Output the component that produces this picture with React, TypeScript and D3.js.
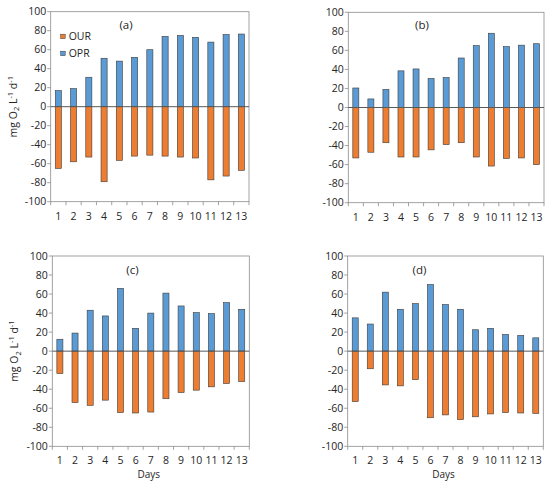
import React from "react";
import * as d3 from "d3";

// Days 1..13
const days = [1, 2, 3, 4, 5, 6, 7, 8, 9, 10, 11, 12, 13];
const yTicks = [-100, -80, -60, -40, -20, 0, 20, 40, 60, 80, 100];

// OPR (positive) and OUR (negative), mg O2 L-1 d-1
const oprA = [17, 19, 31, 51, 48, 52, 60, 74, 75, 73, 68, 76, 76.5];
const ourA = [-65, -58, -53, -79, -56.5, -52, -51, -52, -53, -54, -77, -73, -67];
const oprB = [20.5, 9, 19, 38.5, 40.5, 30.5, 31.5, 52, 65, 78, 64, 65.5, 67];
const ourB = [-53, -47, -37, -52, -52, -44.5, -39, -37, -52, -61.5, -53.5, -53, -60];
const oprC = [12.5, 19, 43, 37, 66, 24, 40, 61, 47.5, 40.5, 39.5, 51, 44];
const ourC = [-23.5, -54, -57, -51.5, -64.5, -65, -64, -50, -43.5, -41, -37.5, -34, -32];
const oprD = [35, 28.5, 62, 44, 50, 70, 49, 44, 22.5, 24, 17.5, 16.5, 14];
const ourD = [-53, -18.5, -35.5, -36.5, -30, -70, -67, -72, -69, -66, -64.5, -65, -65.5];

const BLUE = "#5B9BD5";
const ORANGE = "#ED7D31";
const EDGE = "#3b3b3b";
const AXIS = "#8c8c8c";
const TEXT = "#262626";
const FONT = "'Open Sans', 'Liberation Sans', sans-serif";

type PanelProps = {
  left: number;
  right: number;
  top: number;
  bottom: number;
  label: string;
  labelX: number;
  labelY: number;
  opr: number[];
  our: number[];
  yTitle?: boolean;
  xTitle?: boolean;
  legend?: boolean;
};

const Panel: React.FC<PanelProps> = ({
  left, right, top, bottom, label, labelX, labelY, opr, our, yTitle, xTitle, legend,
}) => {
  const x = d3.scaleBand<number>().domain(days).range([left, right]).padding(0);
  const y = d3.scaleLinear().domain([-100, 100]).range([bottom, top]);
  const bw = x.bandwidth() * 0.4;
  const boundaries = days.map((d) => x(d)!).concat([right]);

  return (
    <g>
      {/* plot area border */}
      <rect x={left} y={top} width={right - left} height={bottom - top} fill="none" stroke={AXIS} strokeWidth={0.8} />

      {/* y ticks */}
      {yTicks.map((t) => (
        <g key={t}>
          <line x1={left - 3.5} x2={left} y1={y(t)} y2={y(t)} stroke={AXIS} strokeWidth={0.8} />
          <text x={left - 4.5} y={y(t)} dy="0.35em" textAnchor="end" fontSize={10.5} fill={TEXT} fontFamily={FONT}>
            {t}
          </text>
        </g>
      ))}

      {/* x ticks */}
      {boundaries.map((b, i) => (
        <line key={i} x1={b} x2={b} y1={bottom} y2={bottom + 3.5} stroke={AXIS} strokeWidth={0.8} />
      ))}
      {days.map((d) => (
        <text key={d} x={x(d)! + x.bandwidth() / 2} y={bottom + 18} textAnchor="middle" fontSize={10.5} fill={TEXT} fontFamily={FONT}>
          {d}
        </text>
      ))}

      {/* bars */}
      {days.map((d, i) => (
        <g key={d}>
          <rect
            x={x(d)! + (x.bandwidth() - bw) / 2}
            y={y(opr[i])}
            width={bw}
            height={y(0) - y(opr[i])}
            fill={BLUE}
            stroke={EDGE}
            strokeWidth={0.6}
          />
          <rect
            x={x(d)! + (x.bandwidth() - bw) / 2}
            y={y(0)}
            width={bw}
            height={y(our[i]) - y(0)}
            fill={ORANGE}
            stroke={EDGE}
            strokeWidth={0.6}
          />
        </g>
      ))}

      {/* zero line */}
      <line x1={left} x2={right} y1={y(0)} y2={y(0)} stroke="#595959" strokeWidth={1} />

      <text x={labelX} y={labelY} textAnchor="middle" fontSize={11.5} fill={TEXT} fontFamily={FONT}>
        {label}
      </text>

      {legend && (
        <g fontFamily={FONT} fontSize={10.5} fill={TEXT}>
          <rect x={left + 10} y={top + 22.5} width={4.5} height={4.5} fill={ORANGE} stroke={EDGE} strokeWidth={0.5} />
          <text x={left + 18} y={top + 28.5}>OUR</text>
          <rect x={left + 10} y={top + 39.5} width={4.5} height={4.5} fill={BLUE} stroke={EDGE} strokeWidth={0.5} />
          <text x={left + 18} y={top + 45.5}>OPR</text>
        </g>
      )}

      {yTitle && (
        <text
          transform={`translate(${left - 34},${(top + bottom) / 2}) rotate(-90)`}
          textAnchor="middle"
          fontSize={10.5}
          fill={TEXT}
          fontFamily={FONT}
        >
          mg O<tspan fontSize={7.5} dy={2.5}>2</tspan>
          <tspan dy={-2.5}> L</tspan>
          <tspan fontSize={7.5} dy={-4}>-1</tspan>
          <tspan dy={4}> d</tspan>
          <tspan fontSize={7.5} dy={-4}>-1</tspan>
        </text>
      )}

      {xTitle && (
        <text x={(left + right) / 2 - 2} y={bottom + 32} textAnchor="middle" fontSize={10} fill={TEXT} fontFamily={FONT}>
          Days
        </text>
      )}
    </g>
  );
};

export default function App() {
  return (
    <svg width={550} height={486} style={{ position: "absolute", left: 0, top: 0, background: "#fff" }}>
      <rect width={550} height={486} fill="#fff" />
      <Panel left={50.7} right={249} top={11.7} bottom={201.7} label="(a)" labelX={126} labelY={29} opr={oprA} our={ourA} yTitle legend />
      <Panel left={348.3} right={544} top={12.3} bottom={202.7} label="(b)" labelX={422} labelY={29} opr={oprB} our={ourB} />
      <Panel left={52.3} right={249.3} top={256} bottom={446.3} label="(c)" labelX={132.5} labelY={274} opr={oprC} our={ourC} yTitle xTitle />
      <Panel left={347.7} right={543.3} top={256} bottom={446.3} label="(d)" labelX={419.5} labelY={274} opr={oprD} our={ourD} xTitle />
    </svg>
  );
}
